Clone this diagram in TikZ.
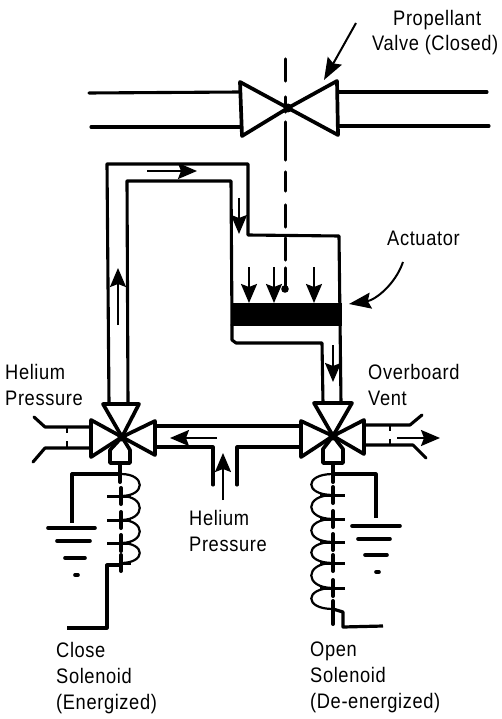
\documentclass[tikz,border=0pt]{standalone}
\usepackage{fontspec}
\setmainfont[FakeStretch=0.87,LetterSpace=3]{Liberation Sans}
\usetikzlibrary{arrows.meta}
\tikzset{
  pipe/.style={line width=3.1pt,line join=round,line cap=round},
  vlv/.style={line width=3.7pt,line join=round,line cap=round},
  flow/.style={line width=2pt,-{Stealth[length=19pt,width=16pt,inset=3pt]}},
  lead/.style={line width=2pt,-{Stealth[length=22pt,width=16pt,inset=3pt]}},
  label/.style={font=\fontsize{21}{26}\selectfont,align=left,anchor=west,inner sep=0pt},
  wire/.style={line width=3.2pt,line join=round},
  core/.style={line width=4pt,line cap=round},
  tick/.style={line width=3pt},
  coil/.style={line width=2.2pt},
  gnd/.style={line width=3.6pt,line cap=round},
  shaft/.style={line width=3.2pt,line cap=round}
}
\begin{document}
\begin{tikzpicture}[x=1pt,y=-1pt]
\useasboundingbox (0,0) rectangle (501,719);
\fill[white] (0,0) rectangle (501,719);
% --- propellant valve
\coordinate (pv) at (288,108);
\draw[pipe] (89,93) -- (240,92);
\draw[pipe] (91,127) -- (240,127);
\draw[pipe] (338,92) -- (487,92);
\draw[pipe] (338,126) -- (489,126);
\draw[vlv] (pv) -- (240,82) -- (242,136) -- cycle;
\draw[vlv] (pv) -- (337,81) -- (338,135) -- cycle;
\fill (pv) circle (4.5);
% --- dashed link
\foreach \a/\b in {59/81,97/112,122/160,172/191,205/227,238/260,268/290}
  \draw[shaft] (285.5,\a) -- (285.5,\b);
\fill (285,289) circle (3.8);
% --- helium line to actuator
\draw[pipe] (109,403) -- (107,164) -- (248,164) -- (248,235) -- (339,236) -- (341,403);
\draw[pipe] (128,403) -- (127,181) -- (231,181) -- (232,325);
\draw[pipe] (232,325) -- (232,340) -- (236,343) -- (322,343) -- (323,403);
\fill (231,303) rectangle (342,326);
% --- flow arrows
\draw[flow] (147,171) -- (197,171);
\draw[flow] (239,198) -- (239,234);
\draw[flow] (118,325) -- (118,268);
\draw[flow] (249,267) -- (249,303);
\draw[flow] (274,267) -- (274,303);
\draw[flow] (314,267) -- (314,303);
\draw[flow] (333,345) -- (333,382);
% --- left valve
\coordinate (lv) at (122,437);
\draw[vlv] (lv) -- (103,404) -- (139,404) -- cycle;
\draw[vlv] (lv) -- (91,420) -- (91,457) -- cycle;
\draw[vlv] (lv) -- (155,421) -- (155,455) -- cycle;
\draw[vlv] (lv) -- (110,450) -- (110,463) -- (130,463) -- (130,450) -- cycle;
\fill (lv) circle (4.5);
% --- right valve
\coordinate (rv) at (333,436);
\draw[vlv] (rv) -- (314,403) -- (352,403) -- cycle;
\draw[vlv] (rv) -- (301,421) -- (301,457) -- cycle;
\draw[vlv] (rv) -- (364,420) -- (364,454) -- cycle;
\draw[vlv] (rv) -- (323,449) -- (323,463) -- (343,463) -- (343,449) -- cycle;
\fill (rv) circle (4.5);
% --- cross line
\draw[pipe] (155,426) -- (301,426);
\draw[pipe] (155,447) -- (213,447) -- (213,485);
\draw[pipe] (237,485) -- (237,447) -- (301,447);
\draw[flow] (217,438) -- (170,438);
\draw[flow] (223,500) -- (223,453);
% --- left stubs
\draw[pipe] (91,427) -- (45,427) -- (34,417);
\draw[pipe] (91,448) -- (45,448) -- (33,462);
\draw[line width=1.8pt] (67,428) -- (67,433) (67,441) -- (67,447);
% --- right stubs
\draw[pipe] (364,425) -- (410,425) -- (422,415);
\draw[pipe] (364,445) -- (413,445) -- (426,458);
\draw[line width=1.8pt] (390,426) -- (390,431) (390,439) -- (390,444);
\draw[flow] (397,438) -- (440,438);
% --- close solenoid
\draw[core] (120,464) -- (120,482);
\foreach \y in {496,520,543,563} \draw[core] (121,\y-8) -- (121,\y+8);
\draw[wire] (120,474) -- (72,474) -- (72,523);
\foreach \y in {496,520,543} \draw[tick] (107,\y) -- (131,\y);
\draw[tick] (121,563) -- (131,563);
\foreach \a/\b in {474/496,496/520,520/543,543/563}
  \draw[coil] (121,\a) .. controls (146,\a) and (146,\b) .. (121,\b);
\draw[wire] (121,565) -- (107,565) -- (107,628) -- (67,628);
\foreach \y/\l/\r in {528/48/95,541/57/90,558/65/85} \draw[gnd] (\l,\y) -- (\r,\y);
\draw[gnd] (75,575) -- (78,575);
% --- open solenoid
\draw[core] (333,464) -- (333,482);
\foreach \y in {495,519,542,563,588,609} \draw[core] (333,\y-8) -- (333,\y+8);
\draw[wire] (333,474) -- (376,474) -- (376,518);
\foreach \y in {495,519,542,563,588} \draw[tick] (320,\y) -- (345,\y);
\foreach \a/\b in {474/495,495/519,519/542,542/563,563/588,588/609}
  \draw[coil] (333,\a) .. controls (304,\a) and (304,\b) .. (333,\b);
\draw[core] (333,609) -- (333,624);
\draw[wire] (333,609) -- (343,612) -- (343,627) -- (383,626);
\foreach \y/\l/\r in {526/352/400,539/358/390,555/365/387} \draw[gnd] (\l,\y) -- (\r,\y);
\draw[gnd] (376,572) -- (379,572);
% --- labels
\node[label] (tprop) at (393,20) {Propellant};
\node[label] (tvalve) at (372,45) {Valve (Closed)};
\node[label] (tact) at (387,238) {Actuator};
\node[label,anchor=north west] (thel1) at (5,364) {Helium\\Pressure};
\node[label,anchor=north west] (tover) at (368,364) {Overboard\\Vent};
\node[label,anchor=north west] (thel2) at (189,510) {Helium\\Pressure};
\node[label,anchor=north west] (tclose) at (56,642) {Close\\Solenoid\\(Energized)};
\node[label,anchor=north west] (topen) at (310,642) {Open\\Solenoid\\(De-energized)};
% --- leaders
\coordinate (pvtip) at (324,80);
\coordinate (actip) at (349,304);
\draw[lead] (356,23) -- (pvtip);
\draw[lead] (403,262) .. controls (395,285) and (375,300) .. (actip);
\end{tikzpicture}
\end{document}
